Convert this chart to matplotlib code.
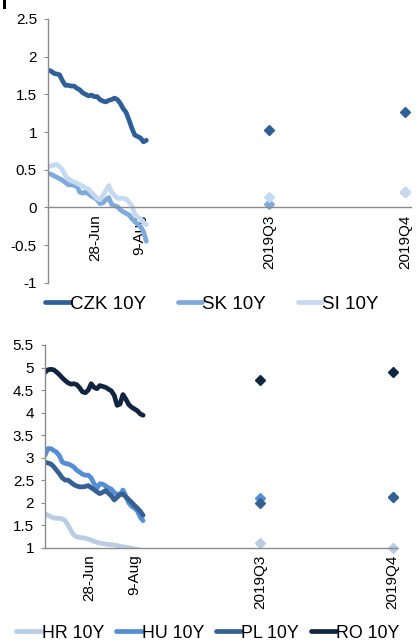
import numpy as np
import matplotlib
matplotlib.use("Agg")
import matplotlib.pyplot as plt
from matplotlib.patches import Rectangle

plt.rcParams['font.family'] = ['Liberation Sans', 'DejaVu Sans']

# ---------------- data ----------------
# daily series sampled every 2 business days (category index)
idx_line = list(range(0, 69, 2))

czk = [1.82, 1.81, 1.78, 1.77, 1.76, 1.68, 1.62, 1.62, 1.61, 1.61, 1.58, 1.56, 1.52, 1.50, 1.48,
       1.49, 1.47, 1.47, 1.43, 1.41, 1.40, 1.42, 1.43, 1.45, 1.43, 1.38, 1.31, 1.26, 1.16, 1.05,
       0.96, 0.94, 0.92, 0.87, 0.89]
sk = [0.45, 0.44, 0.42, 0.40, 0.38, 0.36, 0.33, 0.30, 0.30, 0.29, 0.28, 0.20, 0.19, 0.20, 0.18,
      0.15, 0.13, 0.10, 0.05, 0.06, 0.10, 0.13, 0.04, 0.02, 0.01, -0.03, -0.06, -0.08, -0.10, -0.15,
      -0.19, -0.22, -0.26, -0.32, -0.45]
si = [0.54, 0.55, 0.56, 0.57, 0.54, 0.50, 0.42, 0.38, 0.35, 0.34, 0.32, 0.30, 0.28, 0.26, 0.24,
      0.20, 0.16, 0.12, 0.10, 0.16, 0.22, 0.29, 0.20, 0.16, 0.12, 0.12, 0.12, 0.11, 0.07, 0.02,
      -0.09, -0.13, -0.15, -0.20, -0.23]

ro = [4.89, 4.95, 4.96, 4.95, 4.90, 4.84, 4.77, 4.71, 4.66, 4.63, 4.64, 4.62, 4.55, 4.46, 4.44,
      4.50, 4.64, 4.56, 4.53, 4.60, 4.58, 4.56, 4.52, 4.48, 4.38, 4.16, 4.19, 4.40, 4.30, 4.18,
      4.12, 4.08, 4.04, 3.97, 3.94]
hu = [3.05, 3.20, 3.20, 3.16, 3.12, 3.04, 2.90, 2.87, 2.86, 2.83, 2.79, 2.72, 2.68, 2.63, 2.61,
      2.61, 2.55, 2.42, 2.32, 2.42, 2.41, 2.37, 2.33, 2.30, 2.22, 2.19, 2.18, 2.28, 2.15, 2.00,
      1.92, 1.88, 1.82, 1.68, 1.60]
pl = [2.90, 2.88, 2.86, 2.80, 2.72, 2.64, 2.55, 2.50, 2.50, 2.45, 2.40, 2.37, 2.35, 2.35, 2.36,
      2.38, 2.33, 2.29, 2.24, 2.20, 2.23, 2.27, 2.21, 2.15, 2.06, 2.12, 2.18, 2.19, 2.13, 2.07,
      2.01, 1.94, 1.88, 1.81, 1.72]
hr = [1.76, 1.72, 1.69, 1.66, 1.65, 1.65, 1.64, 1.60, 1.50, 1.38, 1.28, 1.24, 1.23, 1.22, 1.21,
      1.19, 1.17, 1.14, 1.12, 1.10, 1.09, 1.08, 1.07, 1.07, 1.06, 1.05, 1.03, 1.02, 1.01, 1.00,
      0.99, 0.97, 0.96, 0.95, 0.94]

# forecasts (2019Q3, 2019Q4)
czk_fc = [1.03, 1.27]
sk_fc = [0.05, 0.20]
si_fc = [0.14, 0.20]
ro_fc = [4.72, 4.91]
hu_fc = [2.11, 2.13]
pl_fc = [2.00, 2.13]
hr_fc = [1.10, 1.00]

# category positions of tick labels
top_tick_idx = [33, 63, 153, 247]
bot_tick_idx = [31, 62, 149, 241]
tick_labels = ['28-Jun', '9-Aug', '2019Q3', '2019Q4']

top_series = [('CZK 10Y', czk, czk_fc, '#2f5f98'),
              ('SK 10Y', sk, sk_fc, '#7ea9dd'),
              ('SI 10Y', si, si_fc, '#c6d9f1')]
bot_series = [('HR 10Y', hr, hr_fc, '#b9cde5'),
              ('HU 10Y', hu, hu_fc, '#558ed5'),
              ('PL 10Y', pl, pl_fc, '#376092'),
              ('RO 10Y', ro, ro_fc, '#10253f')]

W, H = 417, 644
fig = plt.figure(figsize=(W / 100, H / 100), dpi=100)

AX_COL = '#8c8c8c'


def box(l, r, t, b):
    return [l / W, 1 - b / H, (r - l) / W, (b - t) / H]


def style(ax, ticks, xmax, ylim, yticks, ylabels, zero_y):
    ax.set_xlim(0, xmax)
    ax.set_ylim(*ylim)
    for s in ['top', 'right']:
        ax.spines[s].set_visible(False)
    ax.spines['left'].set_color(AX_COL)
    ax.spines['bottom'].set_color(AX_COL)
    ax.spines['left'].set_linewidth(1.0)
    ax.spines['bottom'].set_linewidth(1.0)
    ax.spines['bottom'].set_position(('data', zero_y))
    ax.set_yticks(yticks)
    ax.set_yticklabels(ylabels)
    ax.tick_params(axis='y', length=3, color=AX_COL, labelsize=11, pad=5, colors=AX_COL,
                   labelcolor='black')
    ax.set_xticks(ticks)
    ax.set_xticklabels(tick_labels, rotation=90, fontsize=11)
    ax.tick_params(axis='x', length=0, pad=5)


# ---------- top chart ----------
ax1 = fig.add_axes(box(48, 411, 19, 282.7))
q_top = [top_tick_idx[2], top_tick_idx[3]]
for name, vals, fc, col in top_series:
    ax1.plot(idx_line, vals, color=col, lw=3.4, solid_joinstyle='round', solid_capstyle='round',
             label=name)
for name, vals, fc, col in top_series:
    ax1.plot(q_top, fc, linestyle='none', marker='D', ms=5.5, color=col)
style(ax1, top_tick_idx, 251, (-1, 2.5), [-1, -0.5, 0, 0.5, 1, 1.5, 2, 2.5],
      ['-1', '-0.5', '0', '0.5', '1', '1.5', '2', '2.5'], 0)

h1, l1 = ax1.get_legend_handles_labels()
fig.legend(h1, l1, loc='center', bbox_to_anchor=(212 / W, 1 - 304 / H), ncol=3, frameon=False,
           fontsize=13.5, handlelength=1.3, handletextpad=0.0, columnspacing=1.7)

# ---------- bottom chart ----------
ax2 = fig.add_axes(box(45, 397, 345, 547.7))
q_bot = [bot_tick_idx[2], bot_tick_idx[3]]
for name, vals, fc, col in bot_series:
    ax2.plot(idx_line, vals, color=col, lw=3.4, solid_joinstyle='round', solid_capstyle='round',
             label=name)
for name, vals, fc, col in bot_series:
    ax2.plot(q_bot, fc, linestyle='none', marker='D', ms=5.5, color=col, clip_on=False)
style(ax2, bot_tick_idx, 244, (1, 5.5), [1, 1.5, 2, 2.5, 3, 3.5, 4, 4.5, 5, 5.5],
      ['1', '1.5', '2', '2.5', '3', '3.5', '4', '4.5', '5', '5.5'], 1)

h2, l2 = ax2.get_legend_handles_labels()
fig.legend(h2, l2, loc='center', bbox_to_anchor=(208 / W, 1 - 633 / H), ncol=4, frameon=False,
           fontsize=12.8, handlelength=1.45, handletextpad=0.0, columnspacing=0.65)

# cut-off glyph at the top-left corner
fig.add_artist(Rectangle((3 / W, 1 - 9 / H), 3 / W, 9 / H, transform=fig.transFigure,
                         color='black', lw=0))

fig.savefig('out.png', dpi=100)
